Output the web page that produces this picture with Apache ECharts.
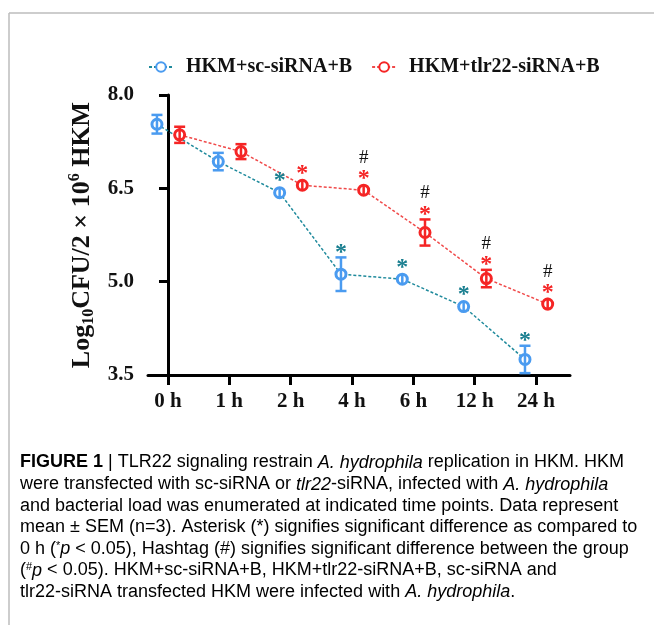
<!DOCTYPE html>
<html>
<head>
<meta charset="utf-8">
<script src="https://cdn.jsdelivr.net/npm/echarts@6/dist/echarts.min.js"></script>
<style>
html,body{margin:0;padding:0;background:#fff;}
#chart{width:654px;height:625px;}
</style>
</head>
<body>
<div id="chart"></div>
<script>
// ---- data ----
const categories = ['0 h', '1 h', '2 h', '4 h', '6 h', '12 h', '24 h'];
const seriesNames = ['HKM+sc-siRNA+B', 'HKM+tlr22-siRNA+B'];
const scMean  = [7.53, 6.93, 6.43, 5.12, 5.04, 4.60, 3.75];
const scSem   = [0.15, 0.14, 0.04, 0.27, 0.06, 0.06, 0.22];
const tlrMean = [7.36, 7.09, 6.55, 6.47, 5.79, 5.05, 4.64];
const tlrSem  = [0.13, 0.12, 0.04, 0.05, 0.21, 0.14, 0.10];
const scStar  = [0, 0, 1, 1, 1, 1, 1];
const tlrStar = [0, 0, 1, 1, 1, 1, 1];
const tlrHash = [0, 0, 0, 1, 1, 1, 1];
const yTicks = [3.5, 5.0, 6.5, 8.0];
const xTicks = [0, 1, 2, 3, 4, 5, 6];

// ---- styling ----
const SERIF = '"Liberation Serif", "Times New Roman", serif';
const SANS = '"Liberation Sans", Arial, sans-serif';
const blue = '#4a9bf0', blueLine = '#1f8a9c', blueStarCol = '#1a7f90';
const red = '#f52525', redLine = '#f04a4a';
const offSc = -0.18, offTlr = 0.19;

function pts(mean, sem, star, hash, off) {
  return mean.map((m, i) => [i + off, m, sem[i], star[i], hash ? hash[i] : 0]);
}
const scPts = pts(scMean, scSem, scStar, null, offSc);
const tlrPts = pts(tlrMean, tlrSem, tlrStar, tlrHash, offTlr);

function errRender(color, starColor) {
  return function (params, api) {
    const x = api.value(0), m = api.value(1), e = api.value(2);
    const c = api.coord([x, m]);
    const t = api.coord([x, m + e]);
    const b = api.coord([x, m - e]);
    const r = 6.5;
    const children = [];
    const y1 = Math.min(t[1], c[1] - r + 1.5), y2 = Math.max(b[1], c[1] + r - 1.5);
    children.push({ type: 'line', shape: { x1: c[0], y1: y1, x2: c[0], y2: y2 }, style: { stroke: color, lineWidth: 2.5 } });
    if (c[1] - t[1] > r) {
      children.push({ type: 'line', shape: { x1: c[0] - 5.5, y1: t[1], x2: c[0] + 5.5, y2: t[1] }, style: { stroke: color, lineWidth: 2.5 } });
      children.push({ type: 'line', shape: { x1: c[0] - 5.5, y1: b[1], x2: c[0] + 5.5, y2: b[1] }, style: { stroke: color, lineWidth: 2.5 } });
    }
    const top = Math.min(t[1], c[1] - r);
    if (api.value(3)) {
      children.push({ type: 'text', x: c[0], y: top - 5, style: { text: '*', fill: starColor, font: 'bold 24px ' + SERIF, align: 'center', verticalAlign: 'middle' } });
    }
    if (api.value(4)) {
      children.push({ type: 'text', x: c[0], y: top - 26, style: { text: '#', fill: '#111', font: '19px ' + SERIF, align: 'center', verticalAlign: 'middle' } });
    }
    return { type: 'group', children: children };
  };
}

const captionLines = [
  '{b|FIGURE 1}{bar| | }{t|TLR22 signaling restrain }{i|A. hydrophila}{t| replication in HKM. HKM}',
  '{t|were transfected with sc-siRNA or }{i|tlr22}{t|-siRNA, infected with }{i|A. hydrophila}',
  '{t|and bacterial load was enumerated at indicated time points. Data represent}',
  '{t|mean ± SEM (n=3). Asterisk (*) signifies significant difference as compared to}',
  '{t|0 h (}{sup|*}{i|p}{t| < 0.05), Hashtag (#) signifies significant difference between the group}',
  '{t|(}{sup|#}{i|p}{t| < 0.05). HKM+sc-siRNA+B, HKM+tlr22-siRNA+B, sc-siRNA and}',
  '{t|tlr22-siRNA transfected HKM were infected with }{i|A. hydrophila}{t|.}'
];
const capY = [462.5, 484.5, 506, 527.5, 549, 570.5, 592];
const capSize = 18;
const capRich = {
  t: { fontFamily: SANS, fontSize: capSize, color: '#3a3a3a' },
  i: { fontFamily: SANS, fontSize: capSize, color: '#3a3a3a', fontStyle: 'italic' },
  b: { fontFamily: SANS, fontSize: capSize, color: '#222', fontWeight: 'bold' },
  bar: { fontFamily: SANS, fontSize: capSize, color: '#888' },
  sup: { fontFamily: SANS, fontSize: 11, color: '#3a3a3a', verticalAlign: 'top' }
};

const graphics = [
  { type: 'line', shape: { x1: 9, y1: 13, x2: 654, y2: 13 }, style: { stroke: '#bdbdbd', lineWidth: 1.5 } },
  { type: 'line', shape: { x1: 9, y1: 13, x2: 9, y2: 625 }, style: { stroke: '#bdbdbd', lineWidth: 1.5 } }
];
captionLines.forEach((txt, i) => {
  graphics.push({ type: 'text', x: 20, y: capY[i], style: { text: txt, rich: capRich, align: 'left', verticalAlign: 'middle' } });
});

const chart = echarts.init(document.getElementById('chart'), null, { renderer: 'canvas' });
chart.setOption({
  backgroundColor: '#fff',
  animation: false,
  legend: {
    top: 52, left: 143,
    itemWidth: 24, itemHeight: 12, itemGap: 19,
    textStyle: { fontFamily: SERIF, fontWeight: 'bold', fontSize: 20, color: '#111', padding: [0, 0, 0, 8] },
    data: seriesNames
  },
  grid: { left: 148, right: 84, top: 95, bottom: 250, containLabel: false },
  xAxis: {
    type: 'value', min: -0.326, max: 6.554,
    splitLine: { show: false },
    axisLine: { show: true, lineStyle: { color: '#000', width: 3 } },
    axisTick: { show: true, customValues: xTicks, length: 10, lineStyle: { color: '#000', width: 3 } },
    axisLabel: {
      customValues: xTicks, margin: 16,
      formatter: v => categories[Math.round(v)] || '',
      fontFamily: SERIF, fontWeight: 'bold', fontSize: 21, color: '#111'
    }
  },
  yAxis: {
    type: 'value', min: 3.5, max: 8.0,
    splitLine: { show: false },
    axisLine: { show: true, lineStyle: { color: '#000', width: 3 } },
    axisTick: { show: true, customValues: yTicks, length: 9, lineStyle: { color: '#000', width: 3 } },
    axisLabel: {
      customValues: yTicks, margin: 14,
      formatter: v => v.toFixed(1),
      fontFamily: SERIF, fontWeight: 'bold', fontSize: 21, color: '#111'
    },
    name: '{n|Log}{s|10}{n|CFU/2 × 10}{p|6}{n| HKM}',
    nameLocation: 'middle', nameRotate: 90, nameGap: 38,
    nameTextStyle: {
      fontFamily: SERIF, fontWeight: 'bold', fontSize: 26, color: '#111',
      rich: {
        n: { fontFamily: SERIF, fontWeight: 'bold', fontSize: 26, color: '#111', lineHeight: 30 },
        s: { fontFamily: SERIF, fontWeight: 'bold', fontSize: 16, color: '#111', verticalAlign: 'bottom', lineHeight: 18 },
        p: { fontFamily: SERIF, fontWeight: 'bold', fontSize: 16, color: '#111', verticalAlign: 'top', lineHeight: 18 }
      }
    }
  },
  series: [
    {
      name: seriesNames[0], type: 'line', data: scPts.map(p => [p[0], p[1]]),
      symbol: 'circle', symbolSize: 10, z: 3,
      itemStyle: { color: '#fff', borderColor: blue, borderWidth: 3 },
      lineStyle: { color: blueLine, width: 1.5, type: [3, 2] }
    },
    {
      name: seriesNames[1], type: 'line', data: tlrPts.map(p => [p[0], p[1]]),
      symbol: 'circle', symbolSize: 10, z: 3,
      itemStyle: { color: '#fff', borderColor: red, borderWidth: 3 },
      lineStyle: { color: redLine, width: 1.5, type: [3, 2] }
    },
    {
      type: 'custom', data: scPts, z: 5, renderItem: errRender(blue, blueStarCol),
      encode: { x: 0, y: 1 }, silent: true
    },
    {
      type: 'custom', data: tlrPts, z: 5, renderItem: errRender(red, red),
      encode: { x: 0, y: 1 }, silent: true
    }
  ],
  graphic: graphics
});
</script>
</body>
</html>
